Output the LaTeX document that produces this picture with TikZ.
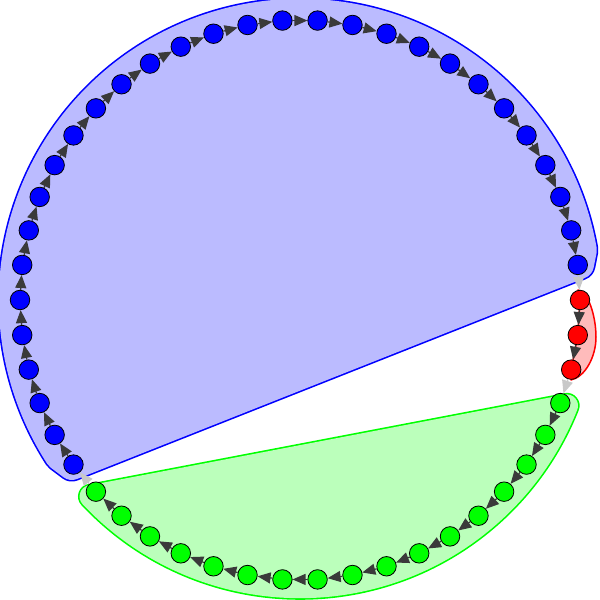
\documentclass[tikz,border=0pt]{standalone}
\usetikzlibrary{arrows.meta}
\definecolor{bluefill}{RGB}{187,187,255}
\definecolor{greenfill}{RGB}{187,255,187}
\definecolor{redfill}{RGB}{255,187,187}
\definecolor{darkedge}{RGB}{58,58,58}
\definecolor{lightedge}{RGB}{200,200,200}
\begin{document}
\begin{tikzpicture}[x=1pt,y=1pt,
  vtx/.style={circle, draw=black, line width=0.8pt, minimum size=19.5pt, inner sep=0pt},
  intra/.style={draw=darkedge, line width=1.2pt, -{Triangle[length=13pt,width=11pt,fill=darkedge]}},
  inter/.style={draw=lightedge, line width=1.2pt, -{Triangle[length=13pt,width=11pt,fill=lightedge]}},
  hullline/.style={line join=round},
]
\useasboundingbox (-300,-300) rectangle (300,300);
% blue hull
\def\bluehull{(7.2:282) -- (10:287) arc[start angle=10, end angle=213, radius=287] -- (216:282) -- cycle}
\draw[hullline, line width=31.6pt, draw=blue] \bluehull;
\draw[hullline, line width=28.4pt, draw=bluefill] \bluehull;
\fill[bluefill] \bluehull;
% green hull
\def\greenhull{(223.2:287) arc[start angle=223.2, end angle=338.4, radius=287] -- cycle}
\draw[hullline, line width=25.6pt, draw=green] \greenhull;
\draw[hullline, line width=22.4pt, draw=greenfill] \greenhull;
\fill[greenfill] \greenhull;
% red hull
\filldraw[fill=redfill, draw=red, line width=1.5pt, line join=round]
  (278,10) .. controls (288,9) and (296,-16) .. (296,-37)
  .. controls (296,-57) and (285,-77) .. (271,-80)
  -- (-14.4:280) -- (-7.2:280) -- (0:280) -- cycle;
% nodes
\foreach \k in {0,...,49}{
  \ifnum\k=0 \def\c{red}\else\ifnum\k<31 \def\c{blue}\else\ifnum\k<48 \def\c{green}\else\def\c{red}\fi\fi\fi
  \node[vtx, fill=\c] (v\k) at ({7.2*\k}:280) {};
}
% edges
\foreach \k in {0,...,49}{
  \pgfmathtruncatemacro\j{mod(\k+49,50)}
  \pgfmathtruncatemacro\isinter{(\k==1)||(\k==31)||(\k==48)}
  \ifnum\isinter=1
    \draw[inter] (v\k) -- (v\j);
  \else
    \draw[intra] (v\k) -- (v\j);
  \fi
}
\end{tikzpicture}
\end{document}
